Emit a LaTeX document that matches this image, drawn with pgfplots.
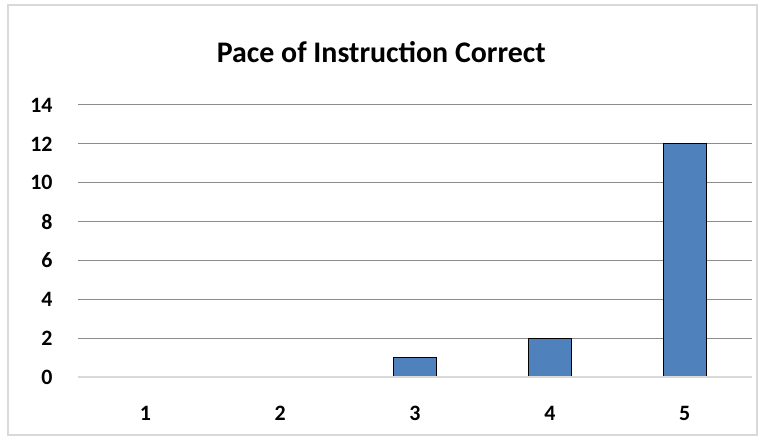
\documentclass[border=0pt]{standalone}
\usepackage{pgfplots}
\pgfplotsset{compat=1.18}
\usepackage{fontspec}
\setmainfont{Carlito}
\definecolor{barblue}{HTML}{4F81BD}
\definecolor{gridgray}{HTML}{8C8C8C}
\definecolor{zerogray}{HTML}{D9D9D9}
\definecolor{framegray}{HTML}{D9D9D9}
\begin{document}
\begin{tikzpicture}[x=1bp,y=1bp]
\path[use as bounding box] (0,0) rectangle (772,440);
\draw[framegray, line width=1.5bp] (8,5) rectangle (757,435);
\begin{axis}[
  at={(78bp,63bp)}, anchor=south west,
  scale only axis, width=674bp, height=272bp,
  xmin=0.5, xmax=5.5, ymin=0, ymax=14,
  ytick={2,4,...,14},
  xtick={1,2,3,4,5},
  axis line style={draw=none},
  tick style={draw=none},
  ymajorgrids, grid style={gridgray, line width=1bp},
  extra y ticks={0}, extra y tick style={grid style={draw=none}},
  ticklabel style={font=\fontsize{22}{24}\selectfont\bfseries},
  /pgf/number format/assume math mode=true,
  yticklabel style={xshift=-22bp, anchor=east},
  xticklabel style={yshift=-26bp},
  title={\fontsize{30}{34}\selectfont\bfseries Pace of Instruction Correct},
  title style={at={(0.45,1)}, anchor=south, yshift=33bp},
  clip=false,
]
\addplot[ybar, bar width=43bp, fill=barblue, draw=black, line width=1.2bp]
  coordinates {(3,1) (4,2) (5,12)};
\draw[zerogray, line width=1.5bp] (axis cs:0.5,0) -- (axis cs:5.5,0);
\end{axis}
\end{tikzpicture}
\end{document}
